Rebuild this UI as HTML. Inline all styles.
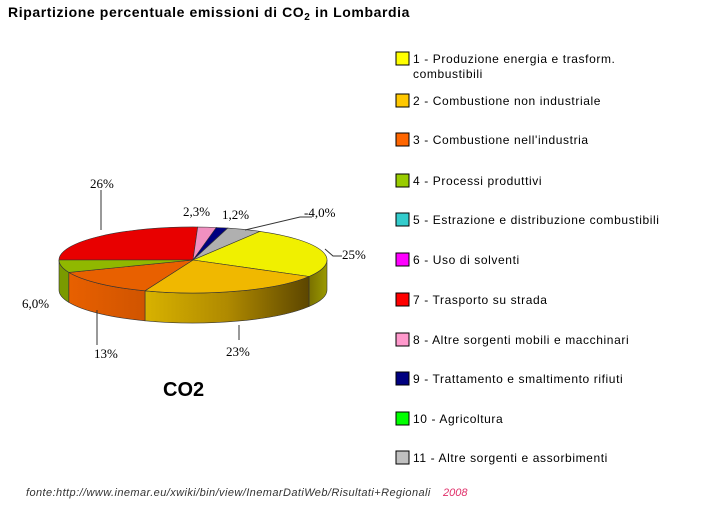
<!DOCTYPE html>
<html><head><meta charset="utf-8"><style>
body{margin:0;background:#fff;width:724px;height:527px;overflow:hidden;font-family:"Liberation Sans",sans-serif}
svg{position:absolute;left:0;top:0}
</style></head><body>
<svg width="724" height="527" viewBox="0 0 724 527">
<defs>
<linearGradient id="gold" x1="0" x2="1"><stop offset="0" stop-color="#d8b200"/><stop offset="0.5" stop-color="#b08a00"/><stop offset="1" stop-color="#5c4600"/></linearGradient>
<linearGradient id="yel" x1="0" x2="1"><stop offset="0" stop-color="#7a7000"/><stop offset="1" stop-color="#9a9a00"/></linearGradient>
<linearGradient id="ora" x1="0" x2="1"><stop offset="0" stop-color="#e86000"/><stop offset="1" stop-color="#d05400"/></linearGradient>
</defs>
<text x="8" y="17" font-size="14" font-weight="bold" fill="#000" letter-spacing="0.6">Ripartizione percentuale emissioni di CO<tspan font-size="10" dy="3">2</tspan><tspan dy="-3"> in Lombardia</tspan></text>
<g stroke="#333" stroke-width="0.6">
<path d="M327,260 A134,33 0 0 1 309,276.5 L309,306.5 A134,33 0 0 0 327,290 Z" fill="url(#yel)"/>
<path d="M309,276.5 A134,33 0 0 1 145,290.8 L145,320.8 A134,33 0 0 0 309,306.5 Z" fill="url(#gold)"/>
<path d="M145,290.8 A134,33 0 0 1 68.8,272.4 L68.8,302.4 A134,33 0 0 0 145,320.8 Z" fill="url(#ora)"/>
<path d="M68.8,272.4 A134,33 0 0 1 59,260 L59,290 A134,33 0 0 0 68.8,302.4 Z" fill="#7a9a00"/>
<path d="M193,260 L59,260 A134,33 0 0 1 197.7,227 Z" fill="#e80000"/>
<path d="M193,260 L197.7,227 A134,33 0 0 1 216.3,227.5 Z" fill="#f090c0"/>
<path d="M193,260 L216.3,227.5 A134,33 0 0 1 227.7,228.1 Z" fill="#000080"/>
<path d="M193,260 L227.7,228.1 A134,33 0 0 1 260,231.4 Z" fill="#b0b0b0"/>
<path d="M193,260 L260,231.4 A134,33 0 0 1 309,276.5 Z" fill="#f0f000"/>
<path d="M193,260 L309,276.5 A134,33 0 0 1 145,290.8 Z" fill="#f0b800"/>
<path d="M193,260 L145,290.8 A134,33 0 0 1 68.8,272.4 Z" fill="#e86000"/>
<path d="M193,260 L68.8,272.4 A134,33 0 0 1 59,260 Z" fill="#90b800"/>
</g>
<g stroke="#333" stroke-width="1" fill="none">
<path d="M101,190 V230"/><path d="M97,310 V345"/><path d="M239,325 V340"/>
<path d="M325,249 L333,256 H342"/><path d="M245,230 L300,217 H312"/>
</g>
<g font-family="Liberation Serif,serif" font-size="13" fill="#000">
<text x="90" y="188">26%</text><text x="183" y="216">2,3%</text><text x="222" y="219">1,2%</text>
<text x="304" y="217">-4,0%</text><text x="342" y="259">25%</text><text x="22" y="308">6,0%</text>
<text x="94" y="358">13%</text><text x="226" y="356">23%</text>
</g>
<text x="163" y="396" font-size="20" font-weight="bold">CO2</text>
<g fill="#000" stroke="#000" stroke-width="1">
<rect x="396" y="52" width="13" height="13" fill="#ffff00"/>
<rect x="396" y="94" width="13" height="13" fill="#ffc800"/>
<rect x="396" y="133" width="13" height="13" fill="#ff6600"/>
<rect x="396" y="174" width="13" height="13" fill="#99cc00"/>
<rect x="396" y="213" width="13" height="13" fill="#33cccc"/>
<rect x="396" y="253" width="13" height="13" fill="#ff00ff"/>
<rect x="396" y="293" width="13" height="13" fill="#ff0000"/>
<rect x="396" y="333" width="13" height="13" fill="#ff99cc"/>
<rect x="396" y="372" width="13" height="13" fill="#000080"/>
<rect x="396" y="412" width="13" height="13" fill="#00ff00"/>
<rect x="396" y="451" width="13" height="13" fill="#c0c0c0"/>
</g>
<g font-size="12" fill="#000" letter-spacing="0.6">
<text x="413" y="63">1 - Produzione energia e trasform.</text>
<text x="413" y="78">combustibili</text>
<text x="413" y="105">2 - Combustione non industriale</text>
<text x="413" y="144">3 - Combustione nell'industria</text>
<text x="413" y="185">4 - Processi produttivi</text>
<text x="413" y="224">5 - Estrazione e distribuzione combustibili</text>
<text x="413" y="264">6 - Uso di solventi</text>
<text x="413" y="304">7 - Trasporto su strada</text>
<text x="413" y="344">8 - Altre sorgenti mobili e macchinari</text>
<text x="413" y="383">9 - Trattamento e smaltimento rifiuti</text>
<text x="413" y="423">10 - Agricoltura</text>
<text x="413" y="462">11 - Altre sorgenti e assorbimenti</text>
</g>
<text x="26" y="496" font-size="11" font-style="italic" fill="#333" letter-spacing="0.42">fonte:http://www.inemar.eu/xwiki/bin/view/InemarDatiWeb/Risultati+Regionali</text>
<text x="443" y="496" font-size="11" font-style="italic" fill="#e0306a">2008</text>
</svg>
</body></html>
